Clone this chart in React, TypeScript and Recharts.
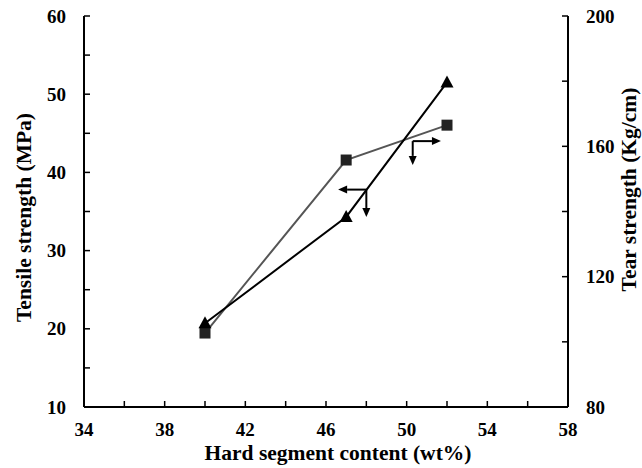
import React from 'react';
import { LineChart, Line, XAxis, YAxis, ReferenceLine, Label } from 'recharts';

const hardSegment = [40, 47, 52];
const tensileStrength = [20.7, 34.3, 51.5];
const tearStrength = [102.7, 155.8, 166.5];

const xTicks = [34, 36, 38, 40, 42, 44, 46, 48, 50, 52, 54, 56, 58];
const xLabels = [34, 38, 42, 46, 50, 54, 58];
const tensileTicks = [10, 15, 20, 25, 30, 35, 40, 45, 50, 55, 60];
const tensileLabels = [10, 20, 30, 40, 50, 60];
const tearTicks = [80, 100, 120, 140, 160, 180, 200];
const tearLabels = [80, 120, 160, 200];

// little arrows showing which axis each curve is read on
const tensileArrow = { x: 48, y: 37.8, toX: 46.6, toY: 34.3 };
const tearArrow = { x: 50.3, y: 161.6, toX: 51.7, toY: 154.3 };

const data = hardSegment.map((x, i) => ({ x, tensile: tensileStrength[i], tear: tearStrength[i] }));

const font = "'Liberation Serif', 'Times New Roman', serif";
const titleStyle = { fill: '#000', fontSize: 21.5, fontWeight: 'bold', fontFamily: font };
const tickTextStyle = { fill: '#000', fontSize: 19, fontWeight: 'bold', fontFamily: font };

// tick text only on the labelled values, bold serif
function tickRenderer(labels: number[]) {
    return (p: any) => {
        const v = p.payload.value;
        if (!labels.includes(v)) return <g key={p.index} />;
        const dy = p.verticalAnchor === 'start' ? '0.71em' : '0.35em';
        return (
            <text key={p.index} x={p.x} y={p.y} dy={dy} textAnchor={p.textAnchor} style={tickTextStyle}>
                {v}
            </text>
        );
    };
}

function Arrow(props: any) {
    const { x1, y1, x2, y2 } = props;
    const dx = x2 - x1, dy = y2 - y1;
    const len = Math.sqrt(dx * dx + dy * dy) || 1;
    const ux = dx / len, uy = dy / len;
    const head = 9, half = 4;
    const bx = x2 - ux * head, by = y2 - uy * head;
    return (
        <g>
            <line x1={x1} y1={y1} x2={bx} y2={by} stroke="#000" strokeWidth={2} />
            <polygon
                points={`${x2},${y2} ${bx - uy * half},${by + ux * half} ${bx + uy * half},${by - ux * half}`}
                fill="#000"
            />
        </g>
    );
}

function TriangleDot(props: any) {
    const { cx, cy } = props;
    if (cx == null || cy == null) return null;
    return <path d={`M${cx},${cy - 7} L${cx + 6.5},${cy + 5} L${cx - 6.5},${cy + 5} Z`} fill="#000" />;
}

function SquareDot(props: any) {
    const { cx, cy } = props;
    if (cx == null || cy == null) return null;
    return <rect x={cx - 5.5} y={cy - 5.5} width={11} height={11} fill="#222" />;
}

function App() {
    return (
        <div style={{ position: 'absolute', left: 0, top: 0 }}>
            <LineChart width={642} height={468} data={data} margin={{ top: 16, right: 0, bottom: 0, left: 0 }}>
                <XAxis
                    xAxisId="top"
                    orientation="top"
                    type="number"
                    dataKey="x"
                    domain={[34, 58]}
                    height={0}
                    tick={false}
                    tickLine={false}
                    axisLine={{ stroke: '#000', strokeWidth: 2 }}
                />
                <XAxis
                    type="number"
                    dataKey="x"
                    domain={[34, 58]}
                    ticks={xTicks}
                    interval={0}
                    height={61}
                    tickSize={-6}
                    tickMargin={22}
                    tick={tickRenderer(xLabels)}
                    tickLine={{ stroke: '#000', strokeWidth: 1.5 }}
                    axisLine={{ stroke: '#000', strokeWidth: 2 }}
                >
                    <Label
                        content={(p: any) => (
                            <text x={p.viewBox.x + p.viewBox.width / 2 + 12} y={p.viewBox.y + 53} textAnchor="middle" style={titleStyle}>
                                Hard segment content (wt%)
                            </text>
                        )}
                    />
                </XAxis>
                <YAxis
                    yAxisId="left"
                    type="number"
                    domain={[10, 60]}
                    ticks={tensileTicks}
                    interval={0}
                    width={84}
                    tickSize={-6}
                    tickMargin={24}
                    tick={tickRenderer(tensileLabels)}
                    tickLine={{ stroke: '#000', strokeWidth: 1.5 }}
                    axisLine={{ stroke: '#000', strokeWidth: 2 }}
                >
                    <Label
                        content={(p: any) => {
                            const cx = p.viewBox.x + 31;
                            const cy = p.viewBox.y + p.viewBox.height / 2 + 6;
                            return (
                                <text x={cx} y={cy} textAnchor="middle" transform={`rotate(-90, ${cx}, ${cy})`} style={titleStyle}>
                                    Tensile strength (MPa)
                                </text>
                            );
                        }}
                    />
                </YAxis>
                <YAxis
                    yAxisId="right"
                    orientation="right"
                    type="number"
                    domain={[80, 200]}
                    ticks={tearTicks}
                    interval={0}
                    width={74}
                    tickSize={-6}
                    tickMargin={24}
                    tick={tickRenderer(tearLabels)}
                    tickLine={{ stroke: '#000', strokeWidth: 1.5 }}
                    axisLine={{ stroke: '#000', strokeWidth: 2 }}
                >
                    <Label
                        content={(p: any) => {
                            const cx = p.viewBox.x + 68;
                            const cy = p.viewBox.y + p.viewBox.height / 2 - 22;
                            return (
                                <text x={cx} y={cy} textAnchor="middle" transform={`rotate(-90, ${cx}, ${cy})`} style={titleStyle}>
                                    Tear strength (Kg/cm)
                                </text>
                            );
                        }}
                    />
                </YAxis>
                <Line
                    yAxisId="right"
                    dataKey="tear"
                    stroke="#555"
                    strokeWidth={2}
                    dot={(p: any) => <SquareDot key={p.index} {...p} />}
                    isAnimationActive={false}
                />
                <Line
                    yAxisId="left"
                    dataKey="tensile"
                    stroke="#000"
                    strokeWidth={2}
                    dot={(p: any) => <TriangleDot key={p.index} {...p} />}
                    isAnimationActive={false}
                />
                <ReferenceLine
                    yAxisId="left"
                    segment={[{ x: tensileArrow.x, y: tensileArrow.y }, { x: tensileArrow.toX, y: tensileArrow.y }]}
                    shape={(p: any) => <Arrow {...p} />}
                />
                <ReferenceLine
                    yAxisId="left"
                    segment={[{ x: tensileArrow.x, y: tensileArrow.y }, { x: tensileArrow.x, y: tensileArrow.toY }]}
                    shape={(p: any) => <Arrow {...p} />}
                />
                <ReferenceLine
                    yAxisId="right"
                    segment={[{ x: tearArrow.x, y: tearArrow.y }, { x: tearArrow.toX, y: tearArrow.y }]}
                    shape={(p: any) => <Arrow {...p} />}
                />
                <ReferenceLine
                    yAxisId="right"
                    segment={[{ x: tearArrow.x, y: tearArrow.y }, { x: tearArrow.x, y: tearArrow.toY }]}
                    shape={(p: any) => <Arrow {...p} />}
                />
            </LineChart>
        </div>
    );
}

export default App;
